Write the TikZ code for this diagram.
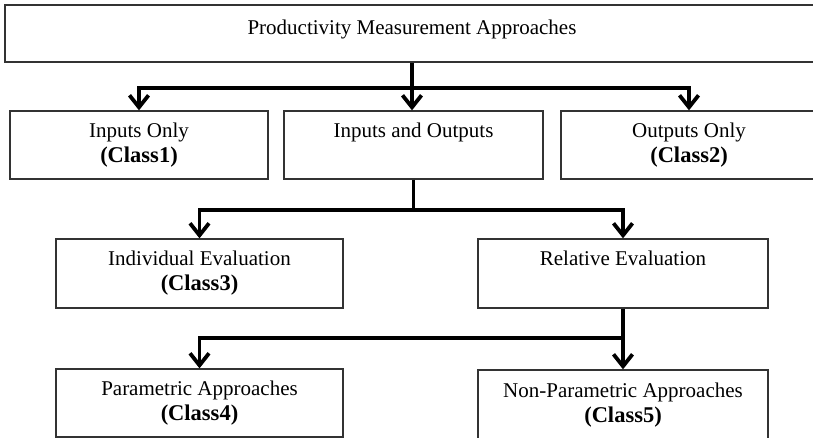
\documentclass[tikz,border=0pt]{standalone}
\usepackage{fontspec}
\setmainfont{Liberation Serif}
\usetikzlibrary{arrows.meta}
\newcommand{\classtag}[1]{{\fontsize{22.5}{25}\selectfont\textbf{#1}}}
\begin{document}
\begin{tikzpicture}[x=1pt,y=-1pt,
  box/.style={draw=black!80, line width=1.3pt, fill=white, inner sep=0pt,
              align=center, font=\fontsize{21}{25}\selectfont},
  conn/.style={line width=3.8pt, black},
  arr/.style={conn, -{Straight Barb[length=12pt,width=19pt]}},
]
\useasboundingbox (0,0) rectangle (813,438);
\clip (0,0) rectangle (813,438);

% root
\node[box, minimum width=814pt, minimum height=57pt, text height=14pt, text depth=11pt]
  (top) at (412,33.5) {Productivity Measurement Approaches};

% first level
\node[box, minimum width=258pt, minimum height=68pt] (in1) at (139,145)
  {Inputs Only\\\classtag{(Class1)}};
\node[box, minimum width=259pt, minimum height=68pt] (in2) at (413.5,145)
  {Inputs and Outputs\\\phantom{\classtag{(Class1)}}};
\node[box, minimum width=256pt, minimum height=68pt] (in3) at (689,145)
  {Outputs Only\\\classtag{(Class2)}};

% second level
\node[box, minimum width=287pt, minimum height=69pt] (ind) at (199.5,273.5)
  {Individual Evaluation\\\classtag{(Class3)}};
\node[box, minimum width=290pt, minimum height=69pt] (rel) at (623,273.5)
  {Relative Evaluation\\\phantom{\classtag{(Class3)}}};

% third level
\node[box, minimum width=287pt, minimum height=68pt] (par) at (199.5,403)
  {Parametric Approaches\\\classtag{(Class4)}};
\node[box, minimum width=290pt, minimum height=70pt] (npar) at (623,405)
  {Non-Parametric Approaches\\\classtag{(Class5)}};

% connectors
\path (top.south) ++(0,25) coordinate (j1);
\draw[conn] (top.south) -- (j1);
\draw[arr] (j1) -| (in1.north);
\draw[arr] (j1) -| (in3.north);
\draw[arr] (j1) -- (in1.north -| j1);

\path (in2.south) ++(0,30) coordinate (j2);
\draw[conn] (in2.south) -- (j2);
\draw[arr] (j2) -| (ind.north);
\draw[arr] (j2) -| (rel.north);

\path (rel.south) ++(0,29) coordinate (j3);
\draw[conn] (rel.south) -- (j3);
\draw[arr] (j3) -| (par.north);
\draw[arr] (j3) -- (npar.north);
\end{tikzpicture}
\end{document}
